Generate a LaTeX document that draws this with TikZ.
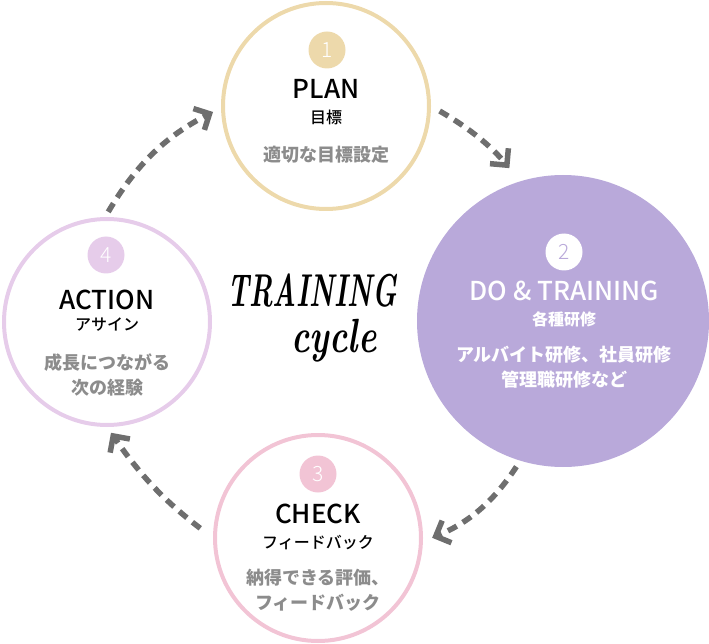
\documentclass[tikz,border=0pt]{standalone}
\usepackage{fontspec}
\newfontfamily\jpfont{Noto Sans CJK JP}
\newfontfamily\jpmedium{Noto Sans CJK JP Medium}
\newfontfamily\jplight{Noto Sans CJK JP Light}
\usetikzlibrary{arrows.meta}
\definecolor{plancolor}{HTML}{EDD9AB}
\definecolor{docolor}{HTML}{B9A9DA}
\definecolor{checkcolor}{HTML}{F2C4D5}
\definecolor{actioncolor}{HTML}{E6CCEA}
\definecolor{notegray}{HTML}{8C8C8C}
\definecolor{arrowgray}{HTML}{6E6E6E}

\begin{document}
\begin{tikzpicture}[
  x=1pt, y=1pt,
  every node/.style = {align=center, inner sep=0pt, font=\jpfont},
  ring/.style = {circle, draw=#1, line width=4pt, minimum size=206pt},
  badge/.style = {circle, fill=#1, minimum size=37pt, text=white, font=\jplight\fontsize{21}{21}\selectfont},
  title/.style = {font=\jpmedium\fontsize{26}{26}\selectfont},
  sub/.style = {font=\jpmedium\fontsize{16}{16}\selectfont},
  note/.style = {text=notegray, font=\jpfont\bfseries\fontsize{18}{25.5}\selectfont},
  flow/.style = {draw=arrowgray, line width=5.5pt, dash pattern=on 10pt off 7pt,
    -{Straight Barb[length=12pt,width=24pt]}}]
  \useasboundingbox (0,0) rectangle (709,-644);

  \node[ring=plancolor] (plan) at (326,-106) {};
  \node[badge=plancolor] (plan-num) at (327,-50) {1};
  \node[title] (plan-title) at (326,-89) {PLAN};
  \node[sub] (plan-sub) at (326,-117) {目標};
  \node[note] (plan-note) at (326,-155) {適切な目標設定};

  \node[circle, fill=docolor, minimum size=292pt] (do) at (563,-321) {};
  \node[badge=white, text=docolor] (do-num) at (564,-252) {2};
  \node[title, text=white] (do-title) at (564,-291) {DO \& TRAINING};
  \node[sub, text=white] (do-sub) at (564,-319) {\jpfont\bfseries 各種研修};
  \node[note, text=white] (do-note) at (564,-367) {アルバイト研修、社員研修\\管理職研修など};

  \node[ring=checkcolor] (check) at (318,-538) {};
  \node[badge=checkcolor] (check-num) at (318,-474) {3};
  \node[title] (check-title) at (318,-514) {CHECK};
  \node[sub] (check-sub) at (318,-543) {フィードバック};
  \node[note] (check-note) at (318,-590) {納得できる評価、\\フィードバック};

  \node[ring=actioncolor] (action) at (107,-322) {};
  \node[badge=actioncolor] (action-num) at (106,-255) {4};
  \node[title] (action-title) at (107,-300) {ACTION};
  \node[sub] (action-sub) at (107,-325) {アサイン};
  \node[note] (action-note) at (107,-375) {成長につながる\\次の経験};

  \node[font=\bfseries\itshape\fontsize{46}{46}\selectfont, xscale=.6] (cycle-top) at (312,-291) {TRAINING};
  \node[font=\bfseries\itshape\fontsize{48}{48}\selectfont, xscale=.72] (cycle-bottom) at (334,-341) {cycle};

  \draw[flow, shorten <=10pt, shorten >=17pt] (plan.0) to[bend left=10] (do.107);
  \draw[flow, shorten <=7pt, shorten >=10pt] (do.253) to[bend left=17] (check.-2);
  \draw[flow, shorten <=16pt, shorten >=7pt] (check.180) to[bend left=9] (action.270);
  \draw[flow, shorten <=6pt, shorten >=9pt] (action.91) to[bend left=16] (plan.181);
\end{tikzpicture}
\end{document}
